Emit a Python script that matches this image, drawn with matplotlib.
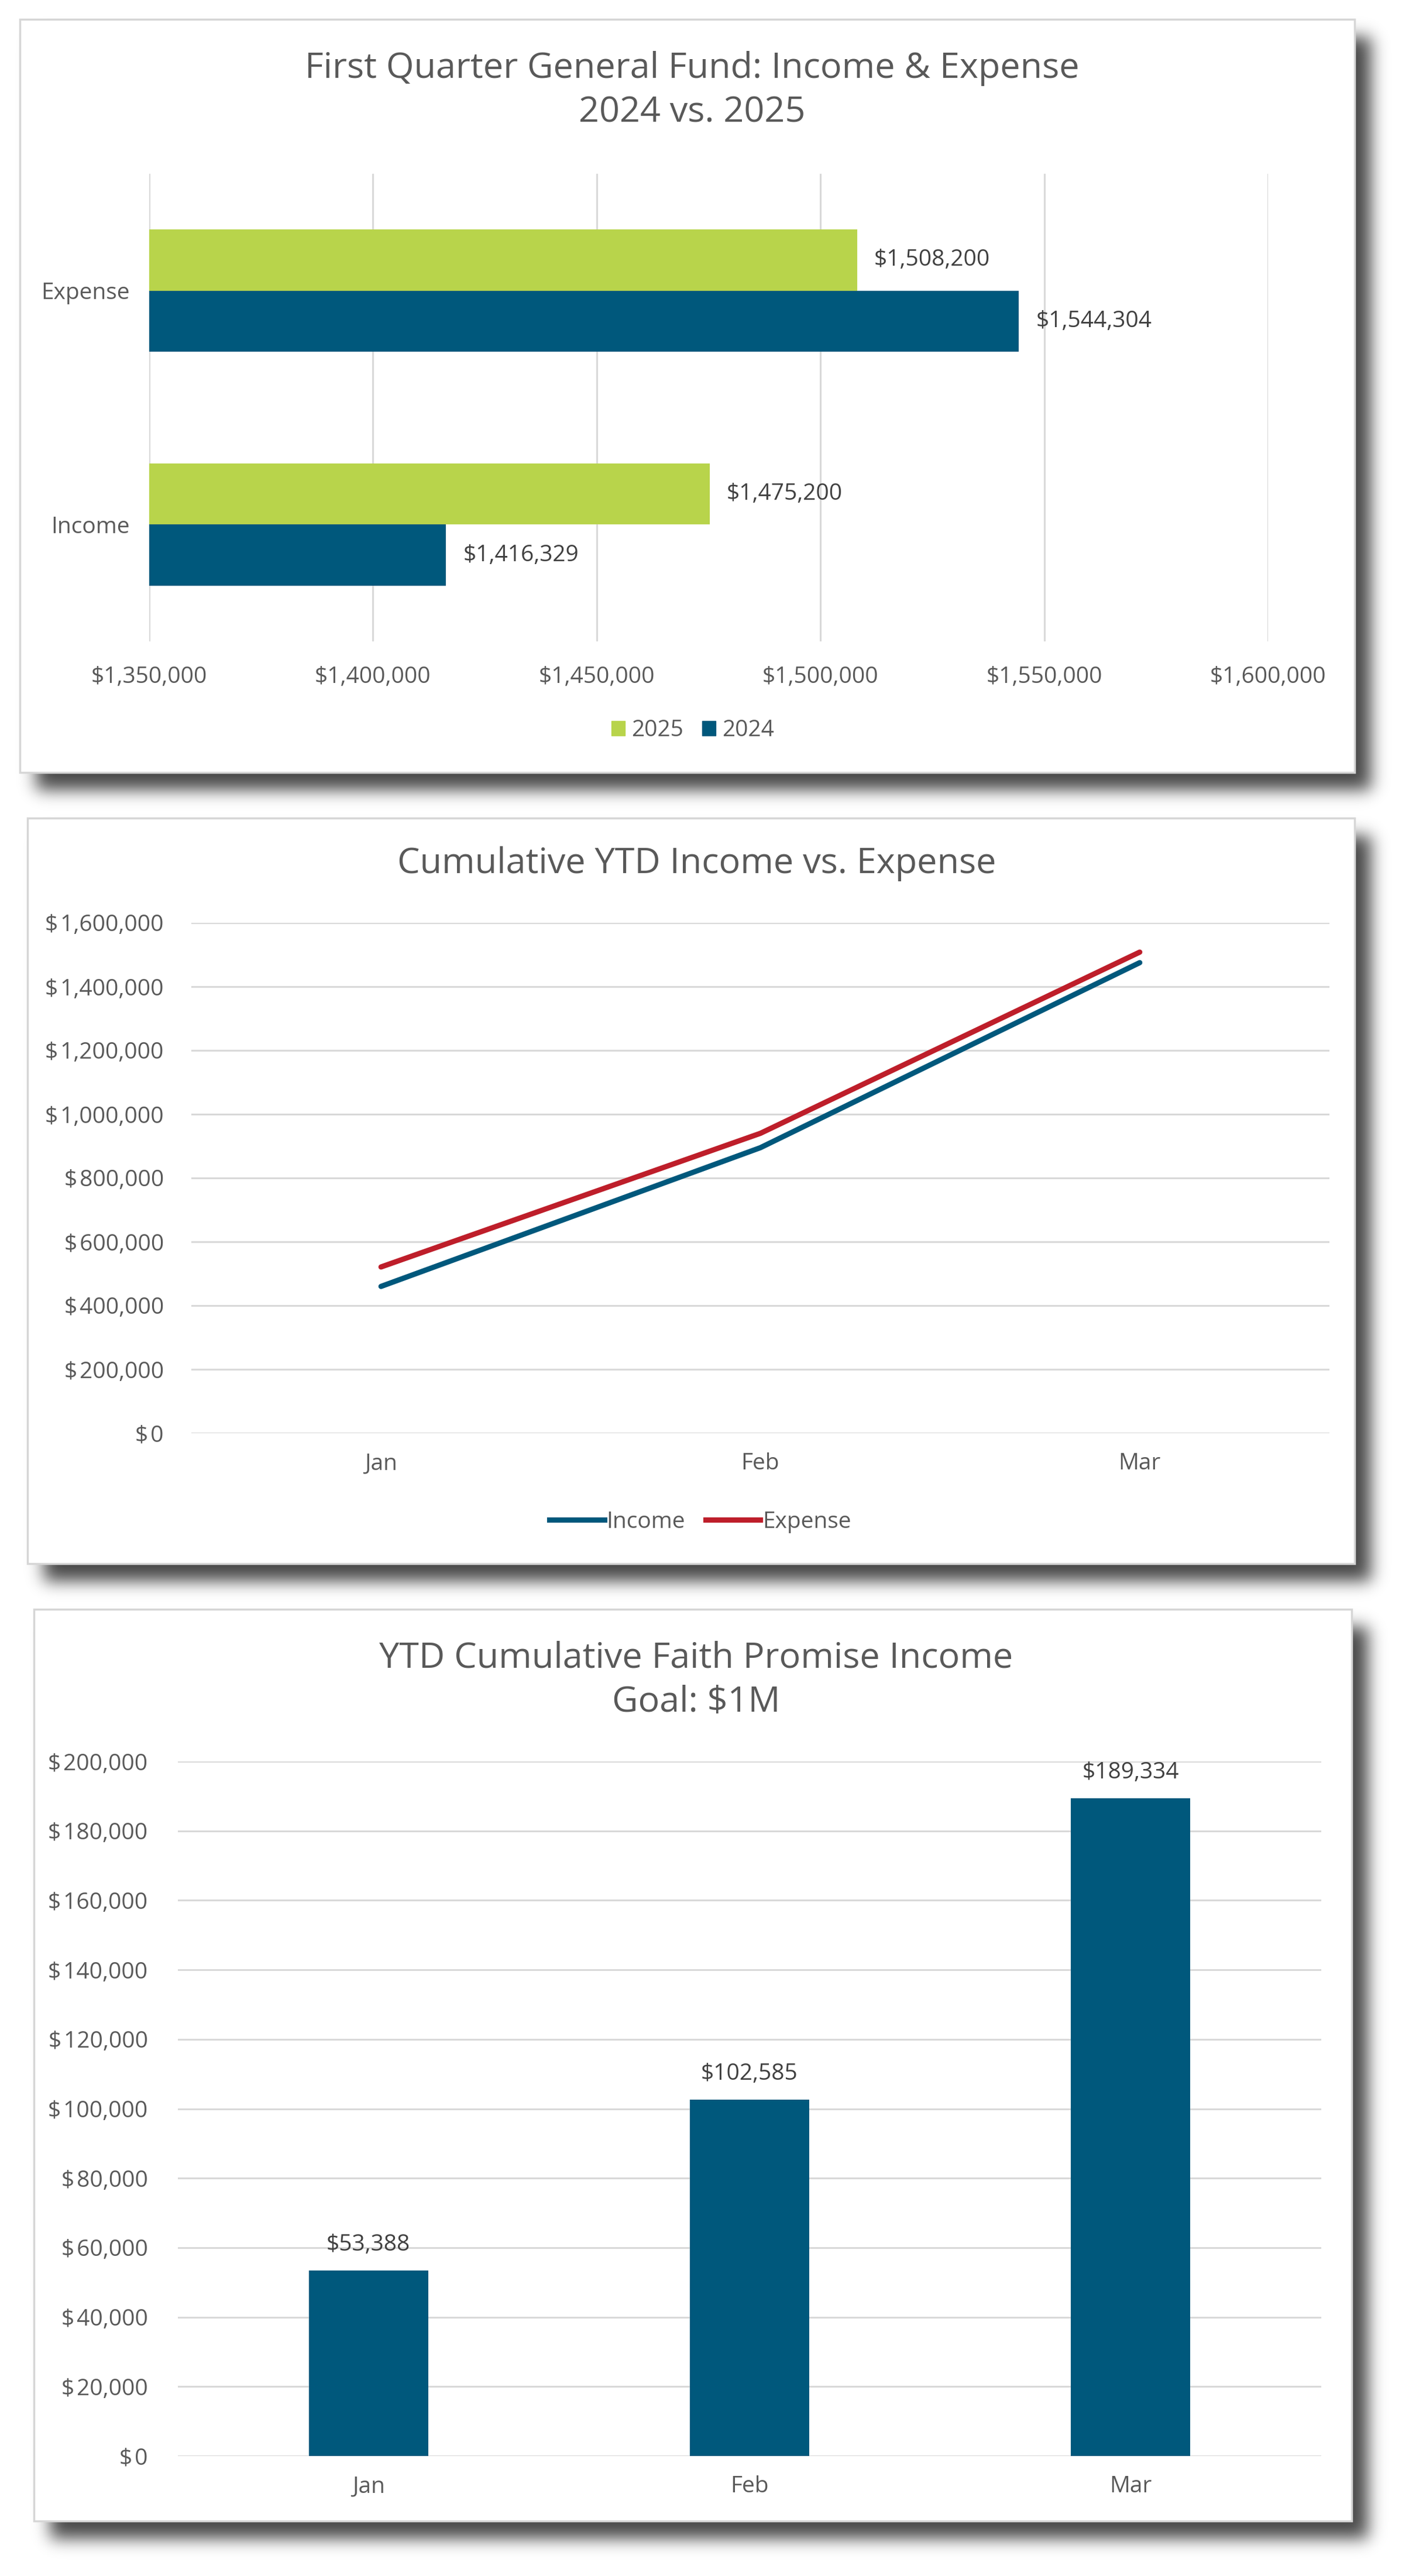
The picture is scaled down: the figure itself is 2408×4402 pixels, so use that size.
import numpy as np
import matplotlib
matplotlib.use("Agg")
import matplotlib.pyplot as plt
from matplotlib.patches import Rectangle, Patch
from matplotlib.lines import Line2D

plt.rcParams['font.family'] = ['Open Sans', 'DejaVu Sans']

# --- data ---
fund_cats = ["Income", "Expense"]
fund_2024 = [1416329, 1544304]
fund_2025 = [1475200, 1508200]

months = ["Jan", "Feb", "Mar"]
ytd_income = [460000, 895000, 1475200]
ytd_expense = [521000, 940000, 1508200]

faith_promise = [53388, 102585, 189334]

# colours
GREEN = "#B8D44B"
BLUE = "#00587C"
RED = "#BE1E2A"
GRID = "#D9D9D9"
TXT = "#595959"
LBL = "#404040"

W, H = 2408, 4402
fig = plt.figure(figsize=(W / 100, H / 100), dpi=100)
fig.patch.set_facecolor("white")


def rect(x0, y0, x1, y1):
    # pixel box (top-left origin) -> figure fraction
    return [x0 / W, 1 - y1 / H, (x1 - x0) / W, (y1 - y0) / H]


# panels (chart cards) and their drop shadows
panels = [(34, 33, 2315, 1320), (47, 1398, 2315, 2672), (58, 2750, 2310, 4308)]

sig = 14
k = np.exp(-0.5 * (np.arange(-4 * sig, 4 * sig + 1) / sig) ** 2)
k /= k.sum()
xs = np.arange(W)
ys = np.arange(H)
shadow = np.zeros((H, W))
for x0, y0, x1, y1 in panels:
    fx = np.convolve(((xs >= x0 + 28) & (xs < x1 + 28)).astype(float), k, mode="same")
    fy = np.convolve(((ys >= y0 + 30) & (ys < y1 + 30)).astype(float), k, mode="same")
    shadow = np.maximum(shadow, np.outer(fy, fx))
img = np.zeros((H, W, 4))
img[..., 3] = shadow * 0.72

bg = fig.add_axes([0, 0, 1, 1])
bg.imshow(img, extent=(0, W, H, 0), interpolation="bilinear")
for x0, y0, x1, y1 in panels:
    bg.add_patch(Rectangle((x0, y0), x1 - x0, y1 - y0, facecolor="white",
                           edgecolor="#D6D6D6", linewidth=2.5))
bg.set_xlim(0, W)
bg.set_ylim(H, 0)
bg.axis("off")


def money(v, space=False):
    s = "{:,.0f}".format(v)
    return ("$\u200a" if space else "$") + s


def clean(ax):
    for s in ax.spines.values():
        s.set_visible(False)
    ax.set_facecolor("none")
    ax.tick_params(length=0, colors=TXT, labelsize=28)


# ---------------- chart 1: horizontal bars ----------------
ax1 = fig.add_axes(rect(255, 297, 2167, 1096))
clean(ax1)
pos = np.arange(len(fund_cats))
h = 0.262
b24 = ax1.barh(pos - h / 2, fund_2024, height=h, color=BLUE, zorder=3)
b25 = ax1.barh(pos + h / 2, fund_2025, height=h, color=GREEN, zorder=3)
ax1.bar_label(b24, labels=[money(v) for v in fund_2024], padding=21, fontsize=28, color=LBL)
ax1.bar_label(b25, labels=[money(v) for v in fund_2025], padding=21, fontsize=28, color=LBL)
ax1.set_xlim(1350000, 1600000)
ax1.set_ylim(-0.5, 1.5)
xt = np.arange(1350000, 1600001, 50000)
ax1.set_xticks(xt)
ax1.set_xticklabels([money(v) for v in xt])
ax1.set_yticks(pos)
ax1.set_yticklabels(fund_cats)
ax1.tick_params(axis="x", pad=30)
ax1.tick_params(axis="y", pad=24)
ax1.grid(axis="x", color=GRID, linewidth=2.2, zorder=0)
ax1.set_axisbelow(True)
fig.text(1183 / W, 1 - 155 / H, "First Quarter General Fund: Income & Expense\n2024 vs. 2025",
         ha="center", va="center", fontsize=44, color=TXT, linespacing=1.33)
fig.legend(handles=[Patch(color=GREEN, label="2025"), Patch(color=BLUE, label="2024")],
           loc="center", bbox_to_anchor=(1184 / W, 1 - 1248 / H), ncol=2, frameon=False,
           fontsize=28, labelcolor=TXT, handlelength=0.6, handleheight=0.6,
           handletextpad=0.3, columnspacing=0.8)

# ---------------- chart 2: lines ----------------
ax2 = fig.add_axes(rect(327, 1577, 2272, 2449))
clean(ax2)
xm = np.arange(len(months))
ax2.plot(xm, ytd_income, color=BLUE, linewidth=6.5, solid_capstyle="round", solid_joinstyle="round", zorder=3)
ax2.plot(xm, ytd_expense, color=RED, linewidth=6.5, solid_capstyle="round", solid_joinstyle="round", zorder=3)
ax2.set_xlim(-0.5, 2.5)
ax2.set_ylim(0, 1600000)
yt = np.arange(0, 1600001, 200000)
ax2.set_yticks(yt)
ax2.set_yticklabels([money(v, True) for v in yt])
ax2.set_xticks(xm)
ax2.set_xticklabels(months)
ax2.tick_params(axis="x", pad=24)
ax2.tick_params(axis="y", pad=34)
ax2.grid(axis="y", color=GRID, linewidth=2.2, zorder=0)
ax2.set_axisbelow(True)
fig.text(1191 / W, 1 - 1476 / H, "Cumulative YTD Income vs. Expense",
         ha="center", va="center", fontsize=44, color=TXT)
fig.legend(handles=[Line2D([], [], color=BLUE, lw=6.5, label="Income"),
                    Line2D([], [], color=RED, lw=6.5, label="Expense")],
           loc="center", bbox_to_anchor=(1197 / W, 1 - 2601 / H), ncol=2, frameon=False,
           fontsize=28, labelcolor=TXT, handlelength=2.4, handletextpad=0.1, columnspacing=0.9)

# ---------------- chart 3: vertical bars ----------------
ax3 = fig.add_axes(rect(304, 3010, 2258, 4197))
clean(ax3)
bars = ax3.bar(xm, faith_promise, width=0.313, color=BLUE, zorder=3)
ax3.bar_label(bars, labels=[money(v) for v in faith_promise], padding=18, fontsize=28, color=LBL)
ax3.set_xlim(-0.5, 2.5)
ax3.set_ylim(0, 200000)
yt3 = np.arange(0, 200001, 20000)
ax3.set_yticks(yt3)
ax3.set_yticklabels([money(v, True) for v in yt3])
ax3.set_xticks(xm)
ax3.set_xticklabels(months)
ax3.tick_params(axis="x", pad=24)
ax3.tick_params(axis="y", pad=37)
ax3.grid(axis="y", color=GRID, linewidth=2.2, zorder=0)
ax3.set_axisbelow(True)
fig.text(1190 / W, 1 - 2871 / H, "YTD Cumulative Faith Promise Income\nGoal: $1M",
         ha="center", va="center", fontsize=44, color=TXT, linespacing=1.33)

fig.savefig("out.png", dpi=100)
